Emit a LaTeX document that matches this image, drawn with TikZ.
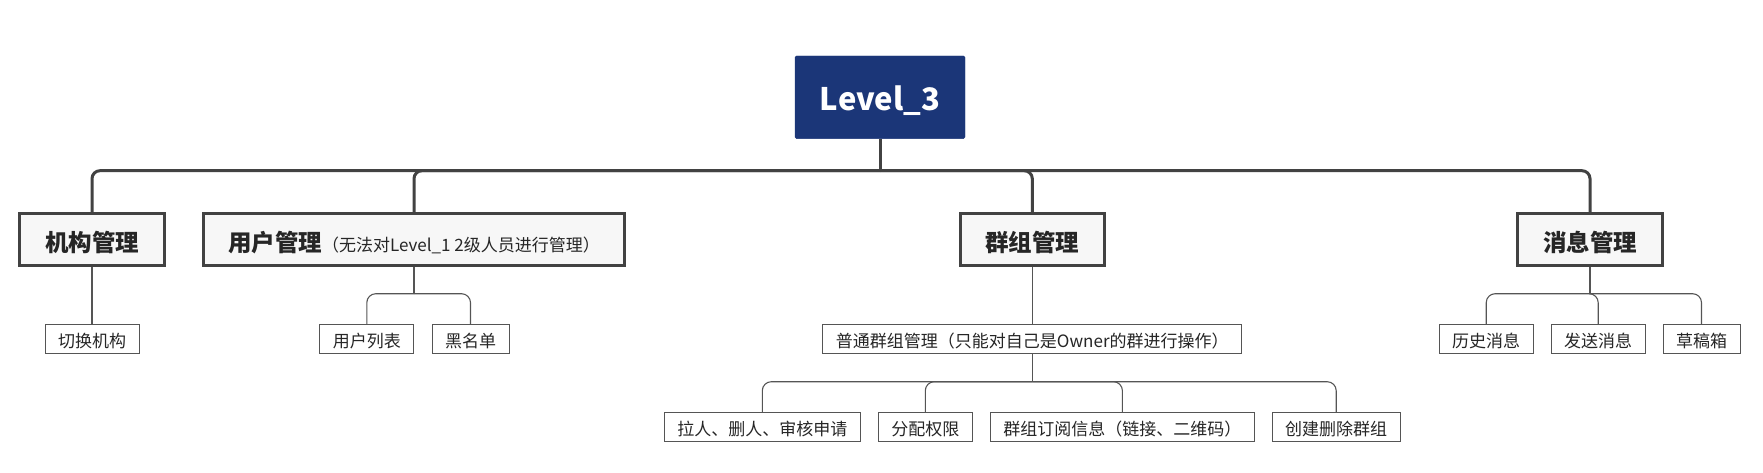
\documentclass[tikz,border=0pt]{standalone}
\usepackage{fontspec}
\setmainfont{Noto Sans CJK SC}
\definecolor{rootblue}{RGB}{27,54,120}
\definecolor{topicfill}{RGB}{247,247,247}
\definecolor{linegray}{RGB}{66,66,66}
\definecolor{twiggray}{RGB}{85,85,85}

\begin{document}
\begin{tikzpicture}[x=1pt, y=-1pt]
    \tikzset{
        root/.style={fill=rootblue, draw=rootblue, rounded corners=1.5pt, text=white,
            font=\fontsize{31}{31}\selectfont\bfseries, inner sep=0pt,
            minimum width=170pt, minimum height=82.7pt, text height=28pt, text depth=2pt},
        topic/.style={draw=linegray, line width=3pt, fill=topicfill, text=black!85,
            font=\fontsize{23.5}{24}\selectfont\bfseries, inner sep=0pt,
            minimum width=144.4pt, minimum height=52pt, text height=26pt, text depth=2.2pt},
        leaf/.style={draw=twiggray, line width=1pt, fill=white, text=black!85,
            font=\fontsize{17}{17}\selectfont, inner xsep=13pt, inner ysep=0pt,
            minimum height=29pt, text height=18pt, text depth=1.6pt},
        trunk/.style={draw=linegray, line width=3pt, rounded corners=8pt},
        twig/.style={draw=twiggray, line width=1.1pt, rounded corners=9pt}
    }
    \useasboundingbox (0,0) rectangle (1763,472);

    \node[root] (root) at (880,97.3) {Level\_3};

    \node[topic] (jigou) at (92,239.8) {机构管理};
    \node[topic, minimum width=421.3pt] (yonghu) at (414,239.8)
        {用户管理{\fontsize{17}{17}\selectfont\mdseries （无法对Level\_1 2级人员进行管理）}};
    \node[topic] (qunzu) at (1032.3,239.8) {群组管理};
    \node[topic] (xiaoxi) at (1590,239.8) {消息管理};

    \node[leaf] (qiehuan) at (92,339.2) {切换机构};
    \node[leaf] (liebiao) at (366.8,339.2) {用户列表};
    \node[leaf] (heimingdan) at (470.5,339.2) {黑名单};
    \node[leaf] (putong) at (1032.3,339.2) {普通群组管理（只能对自己是Owner的群进行操作）};
    \node[leaf] (lishi) at (1486.2,339.2) {历史消息};
    \node[leaf] (fasong) at (1598.2,339.2) {发送消息};
    \node[leaf] (caogao) at (1701.5,339.2) {草稿箱};

    \node[leaf] (laren) at (762.3,427.3) {拉人、删人、审核申请};
    \node[leaf] (fenpei) at (925.3,427.3) {分配权限};
    \node[leaf] (dingyue) at (1122.4,427.3) {群组订阅信息（链接、二维码）};
    \node[leaf] (chuangjian) at (1336.2,427.3) {创建删除群组};

    \coordinate (jroot) at (880,170.7);
    \coordinate (jyonghu) at (414,293.7);
    \coordinate (jxiaoxi) at (1590,293.7);
    \coordinate (jputong) at (1032.3,381.7);

    \draw[trunk] (root.south) -- (jroot);
    \foreach \t in {jigou, yonghu, qunzu, xiaoxi}
        \draw[trunk] (jroot) -| (\t.north);

    \draw[twig] (jigou.south) -- (qiehuan.north);
    \draw[twig] (qunzu.south) -- (putong.north);
    \draw[twig] (yonghu.south) -- (jyonghu);
    \foreach \t in {liebiao, heimingdan}
        \draw[twig] (jyonghu) -| (\t.north);
    \draw[twig] (xiaoxi.south) -- (jxiaoxi);
    \foreach \t in {lishi, fasong, caogao}
        \draw[twig] (jxiaoxi) -| (\t.north);
    \draw[twig] (putong.south) -- (jputong);
    \foreach \t in {laren, fenpei, dingyue, chuangjian}
        \draw[twig] (jputong) -| (\t.north);

\end{tikzpicture}
\end{document}
